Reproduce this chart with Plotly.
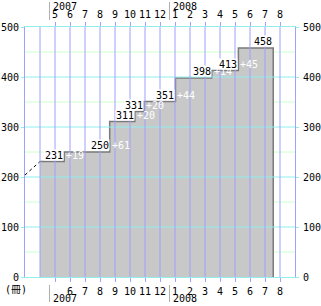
import calendar
import plotly.graph_objects as go

# ---- data ----
levels = [231, 250, 311, 331, 351, 398, 413, 458]
step_dates = ["2007-04-01", "2007-05-20", "2007-08-21", "2007-10-11",
              "2007-10-30", "2008-01-02", "2008-03-15", "2008-05-08"]
end_date = "2008-07-18"
increments = ["+19", "+61", "+20", "+20", "+44", "+14", "+45"]
trend_dates = ["2007-03-01", "2007-04-01"]
trend_values = [204, 231]
month_ticks = ["2007-05", "2007-06", "2007-07", "2007-08", "2007-09", "2007-10",
               "2007-11", "2007-12", "2008-01", "2008-02", "2008-03", "2008-04",
               "2008-05", "2008-06", "2008-07", "2008-08"]
top_tick_text = ["5", "6", "7", "8", "9", "10", "11", "12", "1", "2", "3", "4", "5", "6", "7", "8"]
bottom_tick_text = ["", "6", "7", "8", "9", "10", "11", "12", "1", "2", "3", "4", "5", "6", "7", "8"]
years = ["2007", "2008"]
year_start = ["2007-05", "2008-01"]
y_ticks = [0, 100, 200, 300, 400, 500]
y_minor = [50, 150, 250, 350, 450]
unit_label = "(冊)"

ORIGIN = (2007, 3)
X_END = 18
Y_MAX = 500


def pos(d):
    parts = [int(p) for p in d.split("-")]
    y, m = parts[0], parts[1]
    day = parts[2] if len(parts) > 2 else 1
    n = calendar.monthrange(y, m)[1]
    return (y - ORIGIN[0]) * 12 + (m - ORIGIN[1]) + (day - 1) / n


FONT = "DejaVu Sans Mono, Noto Sans CJK JP, monospace"
PURPLE = "#a0a0ff"
CYAN = "#90eeee"
GREEN = "#ccffcc"
FILL = "#c8c8c8"
EDGE = "#7a7a7a"

W, H = 321, 306
X0PX, X1PX = 25, 295
Y0PX, Y1PX = 277, 27

xs = [pos(d) for d in step_dates] + [pos(end_date), pos(end_date)]
ys = levels + [levels[-1], 0]

fig = go.Figure()
fig.add_trace(go.Scatter(
    x=xs, y=ys, mode="lines", line=dict(shape="hv", color=EDGE, width=1.5),
    fill="tozeroy", fillcolor=FILL, hoverinfo="skip", showlegend=False))
fig.add_trace(go.Scatter(
    x=[pos(d) for d in trend_dates], y=trend_values, mode="lines",
    line=dict(color="black", width=1, dash="dot"), hoverinfo="skip", showlegend=False))
fig.add_trace(go.Scatter(
    x=[pos(d) for d in trend_dates], y=trend_values, mode="lines",
    line=dict(width=0), opacity=0, xaxis="x2", yaxis="y2",
    hoverinfo="skip", showlegend=False))

tickvals = [pos(m) for m in month_ticks]

shapes = []
for v in y_minor:
    shapes.append(dict(type="line", xref="x", yref="y", x0=0, x1=X_END, y0=v, y1=v,
                       line=dict(color=GREEN, width=1), layer="below"))
for v in y_ticks[1:-1]:
    shapes.append(dict(type="line", xref="x", yref="y", x0=0, x1=X_END, y0=v, y1=v,
                       line=dict(color=CYAN, width=1), layer="above"))
for k in range(1, X_END):
    shapes.append(dict(type="line", xref="x", yref="y", x0=k, x1=k, y0=0, y1=Y_MAX,
                       line=dict(color=PURPLE, width=1), layer="above"))
for ys_ in year_start:
    xv = pos(ys_)
    for (a, b) in [(1 - 2 / H, 1 - 20 / H), (1 - 285 / H, 1 - 302 / H)]:
        shapes.append(dict(type="line", xref="x", yref="paper", xsizemode="pixel",
                           xanchor=xv, x0=-5.5, x1=-5.5, y0=a, y1=b,
                           line=dict(color="#b0b0b0", width=1)))

ann = []
for i in range(len(levels) - 1):
    xv = pos(step_dates[i + 1])
    ann.append(dict(x=xv, y=levels[i], xref="x", yref="y", text=str(levels[i]),
                    xanchor="right", yanchor="bottom", showarrow=False, bgcolor="white",
                    borderpad=0, height=10, yshift=1,
                    font=dict(family=FONT, size=10, color="black")))
    ann.append(dict(x=xv, y=levels[i], xref="x", yref="y", text=increments[i],
                    xanchor="left", yanchor="bottom", showarrow=False,
                    borderpad=0, height=10, yshift=1, xshift=1,
                    font=dict(family=FONT, size=10, color="white")))
ann.append(dict(x=pos(end_date), y=levels[-1], xref="x", yref="y", text=str(levels[-1]),
                xanchor="right", yanchor="bottom", showarrow=False, bgcolor="white",
                borderpad=0, height=10, yshift=1,
                font=dict(family=FONT, size=10, color="black")))
for yr, ys_ in zip(years, year_start):
    xv = pos(ys_)
    for yy in [1 - 6.5 / H, 1 - 298 / H]:
        ann.append(dict(x=xv, y=yy, xref="x", yref="paper", text=yr, xanchor="left",
                        yanchor="middle", showarrow=False, xshift=-3, borderpad=0,
                        font=dict(family=FONT, size=10, color="black")))
ann.append(dict(x=4 / W, y=1 - 289.5 / H, xref="paper", yref="paper", text=unit_label,
                xanchor="left", yanchor="middle", showarrow=False, borderpad=0,
                font=dict(family=FONT, size=10, color="black")))

axis_font = dict(family=FONT, size=10, color="black")
fig.update_layout(
    width=W, height=H, autosize=False,
    margin=dict(l=0, r=0, t=0, b=0, pad=0, autoexpand=False),
    paper_bgcolor="white", plot_bgcolor="white",
    showlegend=False,
    xaxis=dict(domain=[X0PX / W, X1PX / W], range=[0, X_END], tickmode="array",
               tickvals=tickvals, ticktext=bottom_tick_text, ticks="outside", ticklen=4,
               tickcolor=PURPLE, tickfont=axis_font, showgrid=False, zeroline=False,
               showline=True, linecolor=CYAN, linewidth=1, mirror=True, automargin=False,
               layer="above traces", fixedrange=True, ticklabelstandoff=1),
    xaxis2=dict(overlaying="x", side="top", anchor="y", range=[0, X_END], tickmode="array",
                tickvals=tickvals, ticktext=top_tick_text, ticks="outside", ticklen=4,
                tickcolor=PURPLE, tickfont=axis_font, showgrid=False, zeroline=False,
                showline=False, fixedrange=True, ticklabelstandoff=0, automargin=False),
    yaxis=dict(domain=[1 - Y0PX / H, 1 - Y1PX / H], range=[0, Y_MAX], tickmode="array",
               tickvals=y_ticks, ticks="outside", ticklen=3, tickcolor=CYAN,
               tickfont=axis_font, showgrid=False, zeroline=False, showline=True,
               linecolor=PURPLE, linewidth=1, mirror=True, layer="above traces",
               fixedrange=True, ticklabelstandoff=0, automargin=False),
    yaxis2=dict(overlaying="y", side="right", anchor="x", range=[0, Y_MAX], tickmode="array",
                tickvals=y_ticks, ticks="outside", ticklen=3, tickcolor=CYAN,
                tickfont=axis_font, showgrid=False, zeroline=False, showline=False,
                fixedrange=True, ticklabelstandoff=2, automargin=False),
    shapes=shapes, annotations=ann,
)
fig.write_html("out.html", config={"displayModeBar": False})
